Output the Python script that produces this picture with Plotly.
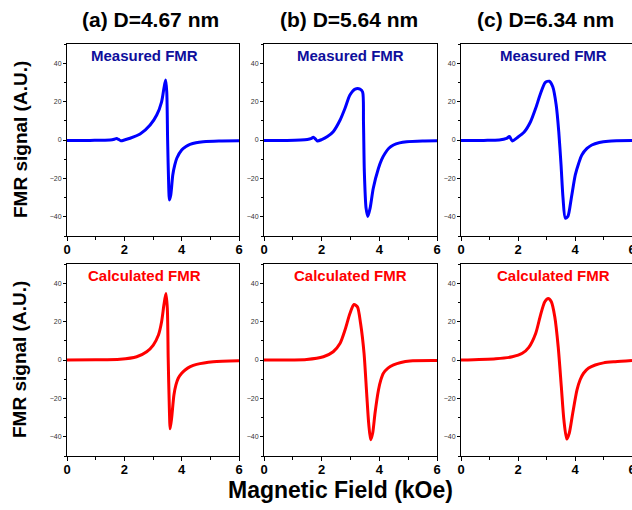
import plotly.graph_objects as go

# ---- data ----
field_meas_a = [0, 0.8, 1.5, 1.65, 1.73, 1.8, 1.88, 2.0, 2.2, 2.55, 2.9, 3.13, 3.3, 3.38, 3.44, 3.48, 3.51, 3.55, 3.57, 3.62, 3.69, 3.76, 3.83, 4.0, 4.15, 4.29, 4.5, 4.75, 5.3, 6.0]
sig_meas_a = [-0.3, -0.2, 0.0, 0.4, 0.8, 0.3, -0.4, 0.0, 0.9, 3.1, 7.8, 13, 19.9, 26.8, 31.2, 25, 0, -25, -31.2, -28.6, -18.2, -13, -9.5, -5.2, -3.4, -2.3, -1.4, -0.9, -0.5, -0.4]

field_meas_b = [0, 0.8, 1.5, 1.65, 1.71, 1.78, 1.85, 2.0, 2.2, 2.4, 2.64, 2.81, 2.98, 3.16, 3.33, 3.42, 3.45, 3.48, 3.54, 3.6, 3.68, 3.79, 3.97, 4.08, 4.2, 4.33, 4.49, 4.7, 4.95, 5.5, 6.0]
sig_meas_b = [-0.3, -0.2, 0.3, 0.9, 1.4, 0.6, -0.5, 0.2, 1.8, 4.3, 10.4, 16.5, 23.4, 26.5, 26.5, 25, 9.5, -16.5, -35.5, -39.8, -35.5, -25.1, -14.7, -10.2, -6.9, -4.3, -2.6, -1.5, -0.9, -0.5, -0.4]

field_meas_c = [0, 0.8, 1.34, 1.6, 1.7, 1.8, 1.97, 2.21, 2.44, 2.62, 2.79, 2.96, 3.1, 3.22, 3.34, 3.43, 3.51, 3.58, 3.66, 3.75, 3.87, 4.01, 4.13, 4.24, 4.42, 4.59, 4.85, 5.17, 6.0]
sig_meas_c = [-0.3, -0.2, 0.0, 0.8, 1.8, -0.5, 1.2, 4, 9.5, 16.5, 24.2, 30, 30.6, 27.7, 18.2, 4.3, -13, -30.3, -40.7, -39.8, -30.3, -18.2, -12.1, -7.8, -4.4, -2.6, -1.3, -0.6, -0.3]

field_calc_a = [0, 1.0, 1.85, 2.43, 2.78, 3.01, 3.19, 3.3, 3.38, 3.45, 3.5, 3.53, 3.57, 3.6, 3.65, 3.73, 3.8, 3.88, 4.0, 4.12, 4.3, 4.52, 5.1, 6.0]
sig_calc_a = [0, 0.1, 0.4, 1.7, 4.3, 7.8, 13, 19.9, 28.6, 34.6, 26.8, 1, -25, -35.8, -30.3, -18.2, -13, -9.5, -6.9, -5.2, -3.5, -2.3, -0.9, -0.4]

field_calc_b = [0, 1.48, 2.06, 2.4, 2.64, 2.81, 2.98, 3.12, 3.24, 3.35, 3.47, 3.56, 3.63, 3.7, 3.77, 3.85, 3.97, 4.05, 4.14, 4.3, 4.49, 4.75, 5.06, 6.0]
sig_calc_b = [0, 0.3, 1.7, 4.3, 8.7, 15.6, 24.2, 28.9, 27.7, 19, 3.5, -17.3, -32.9, -41.6, -38, -27.7, -15.6, -10.5, -6.9, -4.2, -2.6, -1.3, -0.5, -0.3]

field_calc_c = [0, 1.22, 1.8, 2.15, 2.38, 2.62, 2.79, 2.94, 3.06, 3.17, 3.29, 3.41, 3.52, 3.61, 3.71, 3.8, 3.92, 4.07, 4.18, 4.3, 4.48, 4.71, 5.0, 5.41, 6.0]
sig_calc_c = [0, 0.7, 1.7, 3.5, 6.6, 13.8, 23.4, 30.3, 32, 30.3, 22.5, 6.9, -13.9, -31.2, -41.2, -38, -27.7, -15.6, -10.3, -6.9, -4.2, -2.6, -1.5, -0.9, -0.3]

col_titles = ["(a) D=4.67 nm", "(b) D=5.64 nm", "(c) D=6.34 nm"]
x_ticks = [0, 2, 4, 6]
y_ticks = [-40, -20, 0, 20, 40]

W, H = 632, 510
xdoms = [(67 / W, 239 / W), (264 / W, 437 / W), (461 / W, 1.0)]
ydoms = [((H - 236) / H, (H - 44) / H), ((H - 456) / H, (H - 264) / H)]

series = [
    (field_meas_a, sig_meas_a, 0, 0), (field_meas_b, sig_meas_b, 0, 1), (field_meas_c, sig_meas_c, 0, 2),
    (field_calc_a, sig_calc_a, 1, 0), (field_calc_b, sig_calc_b, 1, 1), (field_calc_c, sig_calc_c, 1, 2),
]

fig = go.Figure()
layout = dict(width=W, height=H, margin=dict(l=0, r=0, t=0, b=0, pad=0, autoexpand=False),
              paper_bgcolor="white", plot_bgcolor="white", showlegend=False,
              font=dict(family="Liberation Sans, Arial, sans-serif", color="black"))
annotations = []
for i, (xs, ys, row, col) in enumerate(series):
    n = i + 1
    suf = "" if n == 1 else str(n)
    color = "#0000FF" if row == 0 else "#FF0000"
    fig.add_trace(go.Scatter(x=xs, y=ys, mode="lines",
                             line=dict(color=color, width=3, shape="spline", smoothing=0.7),
                             xaxis="x" + suf, yaxis="y" + suf, hoverinfo="skip"))
    layout["xaxis" + suf] = dict(domain=list(xdoms[col]), range=[0, 6], anchor="y" + suf,
                                 automargin=False, ticklabeloverflow="allow", ticklabelstandoff=-3,
                                 tickvals=x_ticks, ticks="outside", ticklen=4, tickcolor="black",
                                 tickfont=dict(size=13, weight="bold", color="black"),
                                 showline=True, linecolor="black", linewidth=1, mirror=True,
                                 showgrid=False, zeroline=False,
                                 minor=dict(dtick=1, ticks="outside", ticklen=3, tickcolor="black"))
    layout["yaxis" + suf] = dict(domain=list(ydoms[row]), range=[-50, 50], anchor="x" + suf,
                                 automargin=False,
                                 tickvals=y_ticks, ticks="outside", ticklen=3, tickcolor="black",
                                 tickfont=dict(size=7, color="#333"),
                                 showline=True, linecolor="black", linewidth=1, mirror=True,
                                 showgrid=False, zeroline=False,
                                 minor=dict(dtick=10, ticks="outside", ticklen=2, tickcolor="black"))
    label = "Measured FMR" if row == 0 else "Calculated FMR"
    lcolor = "#0E0E9C" if row == 0 else "#FF0000"
    annotations.append(dict(text="<b>" + label + "</b>", xref="x" + suf + " domain", yref="y" + suf + " domain",
                            x=0.5 if col == 1 else (0.45 if col == 0 else 0.54), y=0.94,
                            xanchor="center", yanchor="middle", showarrow=False,
                            font=dict(size=15, color=lcolor)))

for c, t in enumerate(col_titles):
    xc = [150, 349, 545][c] / W
    annotations.append(dict(text="<b>" + t + "</b>", xref="paper", yref="paper", x=xc, y=(H - 20) / H,
                            xanchor="center", yanchor="middle", showarrow=False, font=dict(size=21)))
for yc in [140, 360]:
    annotations.append(dict(text="<b>FMR signal (A.U.)</b>", xref="paper", yref="paper", x=20 / W, y=(H - yc) / H,
                            xanchor="center", yanchor="middle", showarrow=False, textangle=-90,
                            font=dict(size=19)))
annotations.append(dict(text="<b>Magnetic Field (kOe)</b>", xref="paper", yref="paper", x=340 / W, y=(H - 490) / H,
                        xanchor="center", yanchor="middle", showarrow=False, font=dict(size=23)))
layout["annotations"] = annotations
fig.update_layout(**layout)
fig.write_html("out.html", config={"displayModeBar": False},
               post_script="document.body.style.margin='0px';document.body.style.overflow='hidden';")
